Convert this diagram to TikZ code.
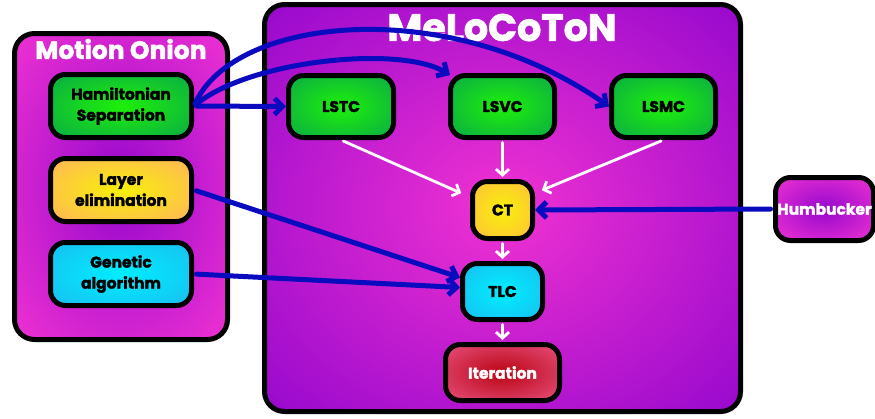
\documentclass[tikz,border=0pt]{standalone}
\usepackage{fontspec}
\setmainfont{Poppins}[BoldFeatures={FakeBold=2}]
\usetikzlibrary{arrows.meta}
\definecolor{pinkM}{RGB}{240,50,210}
\definecolor{purpM}{RGB}{150,8,205}
\definecolor{grIn}{RGB}{30,240,10}
\definecolor{grOut}{RGB}{10,170,70}
\definecolor{yeIn}{RGB}{248,240,10}
\definecolor{orOut}{RGB}{255,180,90}
\definecolor{ctOut}{RGB}{255,190,60}
\definecolor{cyIn}{RGB}{0,238,255}
\definecolor{cyOut}{RGB}{25,190,240}
\definecolor{rdIn}{RGB}{185,5,20}
\definecolor{rdOut}{RGB}{232,80,125}
\definecolor{arrowblue}{RGB}{10,10,190}
\newcommand\mkshade[3]{\pgfdeclareradialshading{#1}{\pgfpoint{0bp}{0bp}}{color(0bp)=(#2); color(36bp)=(#3); color(50bp)=(#3)}}
\mkshade{shMO}{purpM}{pinkM}
\mkshade{shMel}{pinkM}{purpM}
\mkshade{shGreen}{grIn}{grOut}
\mkshade{shLayer}{yeIn}{orOut}
\mkshade{shCT}{yeIn}{ctOut}
\mkshade{shCyan}{cyIn}{cyOut}
\mkshade{shRed}{rdIn}{rdOut}
\mkshade{shHum}{purpM}{pinkM}
\tikzset{
  outerbox/.style={draw=black, line width=5pt, rounded corners=20pt, inner sep=0pt},
  box/.style={draw=black, line width=5pt, rounded corners=15pt, inner sep=0pt, align=center,
    font=\bfseries\fontsize{15.5}{21}\selectfont},
  titletext/.style={text=white, font=\bfseries\fontsize{25}{28}\selectfont, inner sep=0pt},
  bluearr/.style={draw=arrowblue, line width=5pt, line cap=round,
    -{Straight Barb[length=8pt,width=16pt]}, shorten <=2.5pt},
  whitearr/.style={draw=white, line width=2.8pt, line cap=round,
    -{Straight Barb[length=6pt,width=13pt]}, shorten <=2.5pt, shorten >=2pt},
}
\begin{document}
\begin{tikzpicture}[x=1pt,y=-1pt]
\useasboundingbox (0,0) rectangle (875,418);
% outer containers
\node[outerbox, shading=shMO, minimum width=213pt, minimum height=306pt] (mo) at (121,186.5) {};
\node[titletext] (motitle) at (121,49) {Motion Onion};
\node[outerbox, shading=shMel, minimum width=476pt, minimum height=407pt] (mel) at (502.5,208) {};
\node[titletext, font=\bfseries\fontsize{38}{42}\selectfont] (meltitle) at (502,27.5) {MeLoCoToN};
% left nodes
\node[box, shading=shGreen, minimum width=141pt, minimum height=63pt] (ham) at (121,106) {Hamiltonian\\Separation};
\node[box, shading=shLayer, minimum width=141pt, minimum height=63pt] (layer) at (121,190) {Layer\\elimination};
\node[box, shading=shCyan, minimum width=141pt, minimum height=63pt] (gen) at (121,274) {Genetic\\algorithm};
% MeLoCoToN nodes
\node[box, shading=shGreen, minimum width=105pt, minimum height=62pt] (lstc) at (341,106.5) {LSTC};
\node[box, shading=shGreen, minimum width=104pt, minimum height=62pt] (lsvc) at (502.5,106.5) {LSVC};
\node[box, shading=shGreen, minimum width=104pt, minimum height=62pt] (lsmc) at (663.5,106.5) {LSMC};
\node[box, shading=shCT, minimum width=60pt, minimum height=57pt] (ct) at (502.5,210) {CT};
\node[box, shading=shCyan, minimum width=80pt, minimum height=56pt] (tlc) at (502.5,291.5) {TLC};
\node[box, shading=shRed, text=white, minimum width=114pt, minimum height=56pt] (iter) at (502.5,372.5) {Iteration};
\node[box, shading=shHum, text=white, minimum width=98pt, minimum height=63pt] (hum) at (824.5,209) {Humbucker};
% white arrows
\draw[whitearr] (lstc.south) -- ([shift={(-7pt,-15pt)}]ct.north west);
\draw[whitearr] (lsvc.south) -- (ct.north);
\draw[whitearr] (lsmc.south) -- ([shift={(5pt,-12pt)}]ct.north east);
\draw[whitearr] (ct.south) -- (tlc.north);
\draw[whitearr] (tlc.south) -- (iter.north);
% blue arrows
\draw[bluearr] (ham.east) -- (lstc.west);
\draw[bluearr] (ham.east) .. controls (250,60) and (400,45) .. ([shift={(2pt,-2pt)}]lsvc.north west);
\draw[bluearr] (ham.east) .. controls (235,15) and (450,-5) .. (lsmc.west);
\draw[bluearr] (layer.east) -- ([yshift=14pt]tlc.west);
\draw[bluearr] (gen.east) -- ([yshift=4pt]tlc.west);
\draw[bluearr] (hum.west) -- (ct.east);
\end{tikzpicture}
\end{document}
